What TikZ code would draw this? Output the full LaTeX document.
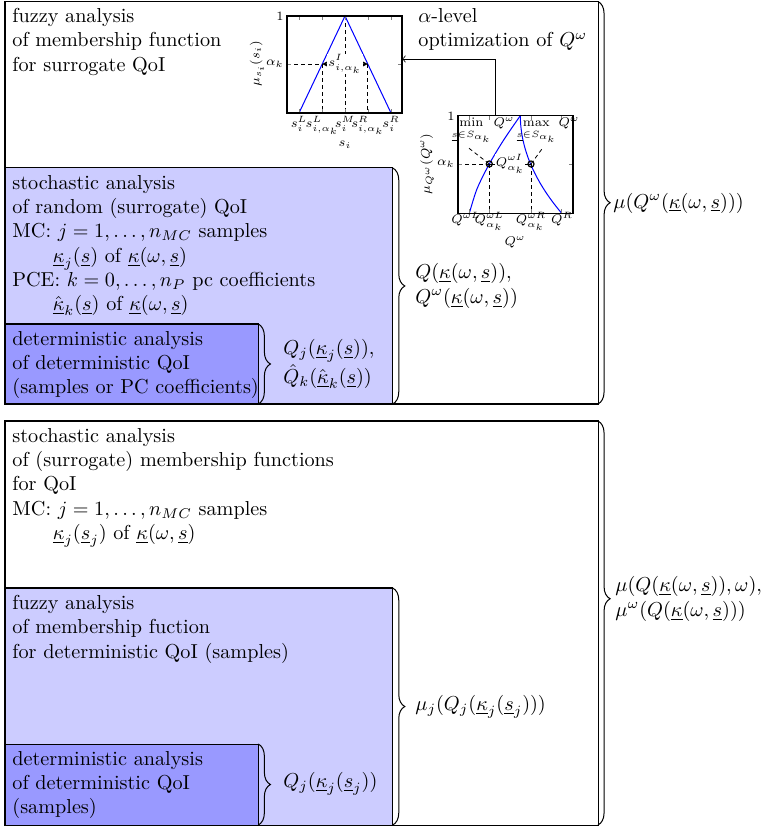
\documentclass[tikz,border=0pt]{standalone}
\usepackage{graphicx}
\usetikzlibrary{decorations.pathreplacing}
\newcommand{\plab}[1]{\scalebox{0.9}{\scriptsize #1}}
\begin{document}
\begin{tikzpicture}[x=0.495pt,y=-0.495pt,
  box/.style={draw=black,line width=0.5pt},
  lightbox/.style={box,fill=blue!20},
  darkbox/.style={box,fill=blue!40},
  brc/.style={decorate,decoration={brace,amplitude=6pt},line width=0.5pt},
  txt/.style={anchor=north west,align=left,inner sep=0pt},
  lbl/.style={anchor=west,align=left,inner sep=0pt},
  ax/.style={line width=0.6pt},
  tk/.style={line width=0.3pt,gray},
  dsh/.style={dash pattern=on 2pt off 1.5pt,line width=0.4pt},
  curve/.style={blue,line width=0.5pt},
  tinyf/.style={inner sep=0.5pt},
  mk/.style={line width=0.6pt}
]
\useasboundingbox (0,0) rectangle (771,828);

% ---------- boxes ----------
\coordinate (tnw) at (5,1.5);   \coordinate (tse) at (598,404);  \coordinate (tne) at (598,1.5);
\coordinate (l1nw) at (5,168);  \coordinate (l1se) at (392.7,404); \coordinate (l1ne) at (392.7,168);
\coordinate (d1nw) at (5,324);  \coordinate (d1se) at (258.3,404); \coordinate (d1ne) at (258.3,324);
\coordinate (bnw) at (5,421);   \coordinate (bse) at (598,825);  \coordinate (bne) at (598,421);
\coordinate (l2nw) at (5,588);  \coordinate (l2se) at (392.7,825); \coordinate (l2ne) at (392.7,588);
\coordinate (d2nw) at (5,744);  \coordinate (d2se) at (258.3,825); \coordinate (d2ne) at (258.3,744);

\draw[box] (tnw) rectangle (tse);
\draw[lightbox] (l1nw) rectangle (l1se);
\draw[darkbox] (d1nw) rectangle (d1se);
\draw[box] (bnw) rectangle (bse);
\draw[lightbox] (l2nw) rectangle (l2se);
\draw[darkbox] (d2nw) rectangle (d2se);

% ---------- braces ----------
\draw[brc] (tne) -- (tse);
\draw[brc] (l1ne) -- (l1se);
\draw[brc] (d1ne) -- (d1se);
\draw[brc,decoration={brace,amplitude=6pt,aspect=0.44}] (bne) -- (bse);
\draw[brc] (l2ne) -- (l2se);
\draw[brc] (d2ne) -- (d2se);

% ---------- box texts ----------
\node[txt] (ttxt) at (12,8) {fuzzy analysis\\of membership function\\for surrogate QoI};
\node[txt] (l1txt) at (12,175) {stochastic analysis\\of random (surrogate) QoI\\MC: $j=1,\ldots,n_{MC}$ samples\\
  \hspace*{2em}$\underline{\kappa}_j(\underline{s})$ of $\underline{\kappa}(\omega,\underline{s})$\\
  PCE: $k=0,\ldots,n_P$ pc coefficients\\
  \hspace*{2em}$\hat{\underline{\kappa}}_k(\underline{s})$ of $\underline{\kappa}(\omega,\underline{s})$};
\node[txt] (d1txt) at (12,331) {deterministic analysis\\of deterministic QoI\\(samples or PC coefficients)};
\node[txt] (btxt) at (12,428) {stochastic analysis\\of (surrogate) membership functions\\for QoI\\MC: $j=1,\ldots,n_{MC}$ samples\\
  \hspace*{2em}$\underline{\kappa}_j(\underline{s}_j)$ of $\underline{\kappa}(\omega,\underline{s})$};
\node[txt] (l2txt) at (12,595) {fuzzy analysis\\of membership fuction\\for deterministic QoI (samples)};
\node[txt] (d2txt) at (12,751) {deterministic analysis\\of deterministic QoI\\(samples)};

% ---------- brace labels ----------
\node[lbl] (tl) at (613,203) {$\mu(Q^\omega(\underline{\kappa}(\omega,\underline{s})))$};
\node[lbl] (l1l) at (415,286) {$Q(\underline{\kappa}(\omega,\underline{s})),$\\$Q^\omega(\underline{\kappa}(\omega,\underline{s}))$};
\node[lbl] (d1l) at (283,364) {$Q_j(\underline{\kappa}_j(\underline{s})),$\\$\hat{Q}_k(\hat{\underline{\kappa}}_k(\underline{s}))$};
\node[lbl] (bl) at (615,599) {$\mu(Q(\underline{\kappa}(\omega,\underline{s})),\omega),$\\$\mu^\omega(Q(\underline{\kappa}(\omega,\underline{s})))$};
\node[lbl] (l2l) at (415,707) {$\mu_j(Q_j(\underline{\kappa}_j(\underline{s}_j)))$};
\node[lbl] (d2l) at (283,784) {$Q_j(\underline{\kappa}_j(\underline{s}_j))$};

\node[txt] (alv) at (418,8) {$\alpha$-level\\optimization of $Q^\omega$};

% ---------- plot 1 ----------
\draw[curve] (299,113) -- (345,16) -- (391,113);
\draw[dsh] (287,64) -- (322.2,64);
\draw[dsh] (322.2,64) -- (322.2,113);
\draw[dsh] (345,16) -- (345,113);
\draw[dsh] (367.8,64) -- (367.8,113);
\draw[<->,>=stealth,line width=0.4pt] (322.2,64) -- (367.8,64)
  node[midway,fill=white,tinyf] (sI) {\plab{$s^I_{i,\alpha_k}$}};
\foreach \x in {299,322.2,345,367.8,391} {\draw[tk] (\x,113) -- (\x,109); \draw[tk] (\x,16) -- (\x,20);}
\foreach \y in {16,64} {\draw[tk] (287,\y) -- (291,\y); \draw[tk] (402,\y) -- (398,\y);}
\draw[ax] (287,16) rectangle (402,113);
\node[tinyf,anchor=base] (x1a) at (299,128) {\plab{$s_i^L$}};
\node[tinyf,anchor=base] (x1b) at (322.2,128) {\plab{$s_{i,\alpha_k}^L$}};
\node[tinyf,anchor=base] (x1c) at (345,128) {\plab{$s_i^M$}};
\node[tinyf,anchor=base] (x1d) at (367.8,128) {\plab{$s_{i,\alpha_k}^R$}};
\node[tinyf,anchor=base] (x1e) at (391,128) {\plab{$s_i^R$}};
\node[tinyf,anchor=base] (x1l) at (345,146.5) {\plab{$s_i$}};
\node[tinyf,anchor=east] (y1a) at (285,64) {\plab{$\alpha_k$}};
\node[tinyf,anchor=east] (y1b) at (285,16) {\plab{1}};
\node[tinyf,rotate=90] (y1l) at (257,64) {\plab{$\mu_{s_i}(s_i)$}};

% ---------- plot 2 ----------
\draw[curve] plot[smooth] coordinates {(469.3,213.3) (477.0,188.9) (489.0,164.5) (503.6,140.1) (520.3,115.7)};
\draw[curve] (520.3,115.7) .. controls (520.5,148.2) and (534.2,180.8) .. (561.7,213.3);
\draw[dsh] (458,164) -- (489.3,164);
\draw[dsh] (489.3,164) -- (489.3,213.3);
\draw[dsh] (531,164) -- (531,213.3);
\draw[dsh] (469,148.3) -- (489.3,164);
\draw[dsh] (541.7,149.3) -- (531,164);
\draw[line width=0.4pt] (489.3,164) -- (531,164) node[midway,fill=white,tinyf] (QI) {\plab{$Q^{\omega I}_{\alpha_k}$}};
\draw[mk] (489.3,164) circle[radius=1.5pt];
\draw[mk] (531,164) circle[radius=1.5pt];
\foreach \x in {469.3,489.3,531,561.7} {\draw[tk] (\x,213.3) -- (\x,209.3); \draw[tk] (\x,115.7) -- (\x,119.7);}
\foreach \y in {115.7,164} {\draw[tk] (458,\y) -- (462,\y); \draw[tk] (573,\y) -- (569,\y);}
\draw[ax] (458,115.7) rectangle (573,213.3);
\node[tinyf] (mn) at (483,131) {\plab{$\min\limits_{\underline{s}\in S_{\alpha_k}} Q^\omega$}};
\node[tinyf] (mx) at (548,131) {\plab{$\max\limits_{\underline{s}\in S_{\alpha_k}} Q^\omega$}};
\node[tinyf,anchor=base] (x2a) at (466,223.5) {\plab{$Q^{\omega L}$}};
\node[tinyf,anchor=base] (x2b) at (489.3,223.5) {\plab{$Q^{\omega L}_{\alpha_k}$}};
\node[tinyf,anchor=base] (x2c) at (531,223.5) {\plab{$Q^{\omega R}_{\alpha_k}$}};
\node[tinyf,anchor=base] (x2d) at (562,223.5) {\plab{$Q^{R}$}};
\node[tinyf,anchor=base] (x2l) at (515,246) {\plab{$Q^\omega$}};
\node[tinyf,anchor=east] (y2a) at (456,164) {\plab{$\alpha_k$}};
\node[tinyf,anchor=east] (y2b) at (456,116) {\plab{1}};
\node[tinyf,rotate=90] (y2l) at (427,164) {\plab{$\mu_{Q^\omega}(Q^\omega)$}};

% ---------- connector ----------
\coordinate (p2top) at (495.7,115.7);
\coordinate (p1east) at (402,59);
\draw[->,line width=0.4pt] (p2top) |- (p1east);
\end{tikzpicture}
\end{document}
